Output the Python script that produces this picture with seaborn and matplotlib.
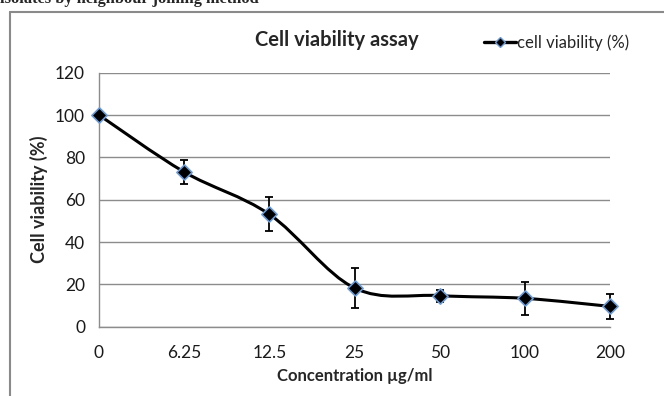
import numpy as np
import matplotlib
matplotlib.use("Agg")
import matplotlib.pyplot as plt
from matplotlib.path import Path
from matplotlib.patches import PathPatch
from matplotlib.lines import Line2D
import seaborn as sns
import pandas as pd

# ---- data ----
concentrations = ["0", "6.25", "12.5", "25", "50", "100", "200"]
viability = [100, 73.1, 53.1, 18.3, 14.7, 13.4, 9.6]
errors = [0, 5.7, 8.0, 9.5, 2.8, 7.9, 5.8]
y_ticks = [0, 20, 40, 60, 80, 100, 120]

sns.set_theme(style="white")
plt.rcParams["font.family"] = ["Lato", "DejaVu Sans"]

W, H = 664, 396
fig = plt.figure(figsize=(W / 100, H / 100), dpi=100)
ax = fig.add_axes([99 / W, 1 - 326.7 / H, (610 - 99) / W, (326.7 - 72.7) / H])

df = pd.DataFrame({"pos": np.arange(len(concentrations)), "v": viability, "e": errors})

# smoothed line (Excel-style Bezier through the points)
pts = np.column_stack([df["pos"].values, df["v"].values]).astype(float)
n = len(pts)
verts = [pts[0]]
codes = [Path.MOVETO]
for i in range(n - 1):
    p0 = pts[i - 1] if i > 0 else pts[i]
    p1 = pts[i]
    p2 = pts[i + 1]
    p3 = pts[i + 2] if i + 2 < n else pts[i + 1]
    c1 = p1 + (p2 - p0) / 6.0
    c2 = p2 - (p3 - p1) / 6.0
    verts += [c1, c2, p2]
    codes += [Path.CURVE4] * 3
ax.add_patch(PathPatch(Path(verts, codes), facecolor="none", edgecolor="black",
                       lw=2.2, zorder=3, clip_on=False))

# error bars
ax.errorbar(df["pos"], df["v"], yerr=df["e"], fmt="none", ecolor="black",
            elinewidth=1.3, capsize=3.2, capthick=1.3, zorder=4, clip_on=False)

# markers
sns.scatterplot(data=df, x="pos", y="v", marker="D", s=60, color="black",
                edgecolor="#6a9ad6", linewidth=1.2, zorder=5, ax=ax,
                clip_on=False, legend=False)

ax.set_xlim(0, len(concentrations) - 1)
ax.set_ylim(0, 120)
ax.set_xticks(range(len(concentrations)))
ax.set_xticklabels(concentrations)
ax.set_yticks(y_ticks)
ax.set_yticklabels([str(t) for t in y_ticks])
ax.yaxis.grid(True, color="#8c8c8c", lw=1.0)
ax.xaxis.grid(False)
for s in ["top", "right"]:
    ax.spines[s].set_visible(False)
for s in ["left", "bottom"]:
    ax.spines[s].set_color("#8c8c8c")
    ax.spines[s].set_linewidth(1.0)
ax.tick_params(axis="both", which="major", direction="out", length=5, width=1,
               color="#8c8c8c", labelsize=12.5, labelcolor="#1a1a1a", pad=5)
ax.tick_params(axis="x", pad=8)
ax.set_xlabel("Concentration µg/ml", fontsize=12, fontweight="bold", labelpad=5)
ax.set_ylabel("Cell viability (%)", fontsize=13, fontweight="bold", labelpad=5)

# title and legend
fig.text(337 / W, 1 - 40 / H, "Cell viability assay", ha="center", va="center",
         fontsize=14.5, fontweight="bold")
handle = Line2D([], [], color="black", lw=2.4, marker="D", ms=5.5,
                mfc="black", mec="#6a9ad6", mew=1)
fig.legend([handle], ["cell viability (%)"], loc="center left",
           bbox_to_anchor=(484 / W, 1 - 43 / H), frameon=False, fontsize=12,
           handlelength=1.9, handletextpad=0.1, borderpad=0, borderaxespad=0)

# chart frame (left and top edges)
fig.add_artist(Line2D([10 / W, 10 / W], [0, 1 - 12 / H], transform=fig.transFigure,
                      color="#8a8a8a", lw=1.5))
fig.add_artist(Line2D([10 / W, 1], [1 - 12 / H, 1 - 12 / H], transform=fig.transFigure,
                      color="#8a8a8a", lw=1.5))

# cropped caption from the page above
fig.text(0, 1 + 1 / H, "isolates by neighbour joining method", ha="left", va="center",
         fontsize=11.8, fontweight="bold", family=["Liberation Serif", "DejaVu Serif"])

fig.savefig("out.png", dpi=100, facecolor="white")
